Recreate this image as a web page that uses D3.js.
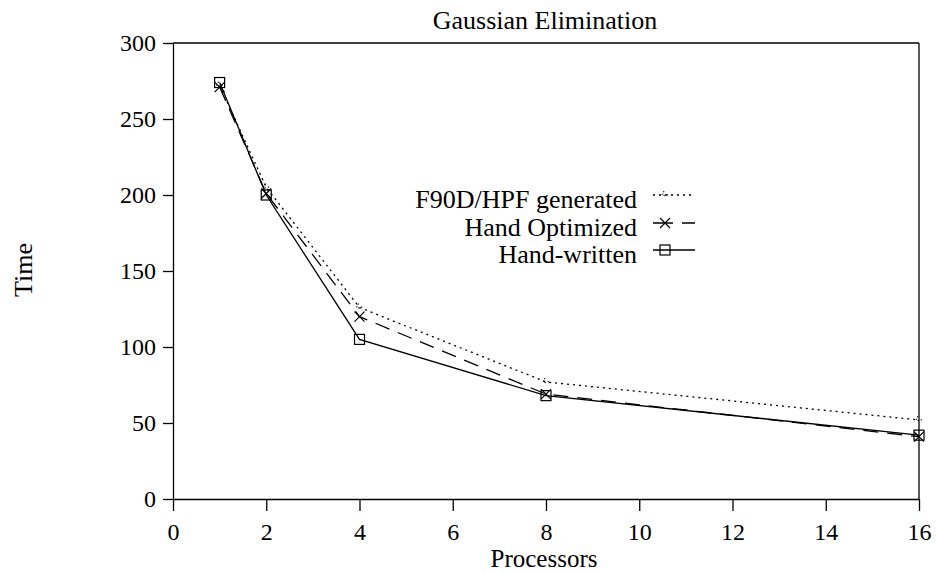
<!DOCTYPE html>
<html lang="en">
<head>
    <meta charset="UTF-8">
    <title>Gaussian Elimination</title>
    <script src="https://d3js.org/d3.v7.min.js"></script>
    <style>
        body { margin: 0; background: #fff; }
        svg { display: block; font-family: "Liberation Serif", "Times New Roman", serif; }
        .axis path, .axis line { stroke: #000; stroke-width: 1.3px; }
        .axis text { font-size: 24px; fill: #000; font-family: "Liberation Serif", serif; }
    </style>
</head>
<body>
<svg width="936" height="573"></svg>
<script>
    // chart data
    const processors = [1, 2, 4, 8, 16];
    const f90dTimes = [272, 205, 126, 77, 52];
    const handOptTimes = [271, 201, 120, 69, 41];
    const handWrittenTimes = [274, 200, 105, 68, 42];
    const seriesNames = ["F90D/HPF generated", "Hand Optimized", "Hand-written"];
    const xTicks = [0, 2, 4, 6, 8, 10, 12, 14, 16];
    const yTicks = [0, 50, 100, 150, 200, 250, 300];

    const svg = d3.select("svg");
    const x = d3.scaleLinear().domain([0, 16]).range([173, 919]);
    const y = d3.scaleLinear().domain([0, 300]).range([499, 43]);

    // frame: top and right lines
    svg.append("line").attr("x1", x(0)).attr("x2", x(16)).attr("y1", y(300)).attr("y2", y(300))
        .attr("stroke", "#000").attr("stroke-width", 1.3);
    svg.append("line").attr("x1", x(16)).attr("x2", x(16)).attr("y1", y(300)).attr("y2", y(0))
        .attr("stroke", "#000").attr("stroke-width", 1.3);

    svg.append("g").attr("class", "axis")
        .attr("transform", "translate(0," + y(0) + ")")
        .call(d3.axisBottom(x).tickValues(xTicks).tickSize(12).tickSizeOuter(0).tickPadding(12));
    svg.append("g").attr("class", "axis")
        .attr("transform", "translate(" + x(0) + ",0)")
        .call(d3.axisLeft(y).tickValues(yTicks).tickSize(10).tickSizeOuter(0).tickPadding(7));

    // titles
    svg.append("text").attr("x", 545).attr("y", 29).attr("text-anchor", "middle")
        .attr("font-size", 26).text("Gaussian Elimination");
    svg.append("text").attr("x", 544).attr("y", 567).attr("text-anchor", "middle")
        .attr("font-size", 25).text("Processors");
    svg.append("text").attr("transform", "translate(32,270) rotate(-90)").attr("text-anchor", "middle")
        .attr("font-size", 26).text("Time");

    const series = [
        { name: seriesNames[0], values: f90dTimes, dash: "2,4", marker: "dot" },
        { name: seriesNames[1], values: handOptTimes, dash: "15,9", marker: "cross" },
        { name: seriesNames[2], values: handWrittenTimes, dash: null, marker: "square" }
    ];

    const line = d3.line().x(d => x(d[0])).y(d => y(d[1]));

    function drawMarker(g, type, cx, cy) {
        if (type === "square") {
            g.append("rect").attr("x", cx - 5).attr("y", cy - 5).attr("width", 10).attr("height", 10)
                .attr("fill", "none").attr("stroke", "#000").attr("stroke-width", 1.2);
        } else if (type === "cross") {
            g.append("path").attr("d", `M${cx-5},${cy-5}L${cx+5},${cy+5}M${cx-5},${cy+5}L${cx+5},${cy-5}`)
                .attr("stroke", "#000").attr("stroke-width", 1.2);
        } else {
            g.append("path").attr("d", `M${cx-1},${cy-4}L${cx-3},${cy}L${cx+1},${cy+1}M${cx+2},${cy-1}L${cx+3},${cy+2}`)
                .attr("fill", "none").attr("stroke", "#000").attr("stroke-width", 1)
                .attr("stroke-dasharray", "1.5,1.5");
        }
    }

    series.forEach(s => {
        const pts = processors.map((p, i) => [p, s.values[i]]);
        svg.append("path").attr("d", line(pts)).attr("fill", "none")
            .attr("stroke", "#000").attr("stroke-width", 1.3)
            .attr("stroke-dasharray", s.dash);
        const g = svg.append("g");
        pts.forEach(p => drawMarker(g, s.marker, x(p[0]), y(p[1])));
    });

    // legend
    const legendY = [195, 223, 250];
    series.forEach((s, i) => {
        svg.append("text").attr("x", 637).attr("y", legendY[i] + 13).attr("text-anchor", "end")
            .attr("font-size", 26).text(s.name);
        svg.append("line").attr("x1", 653).attr("x2", 695).attr("y1", legendY[i]).attr("y2", legendY[i])
            .attr("stroke", "#000").attr("stroke-width", 1.3)
            .attr("stroke-dasharray", s.marker === "cross" ? "20,9,13" : s.dash);
        drawMarker(svg.append("g"), s.marker, 665, legendY[i]);
    });
</script>
</body>
</html>
